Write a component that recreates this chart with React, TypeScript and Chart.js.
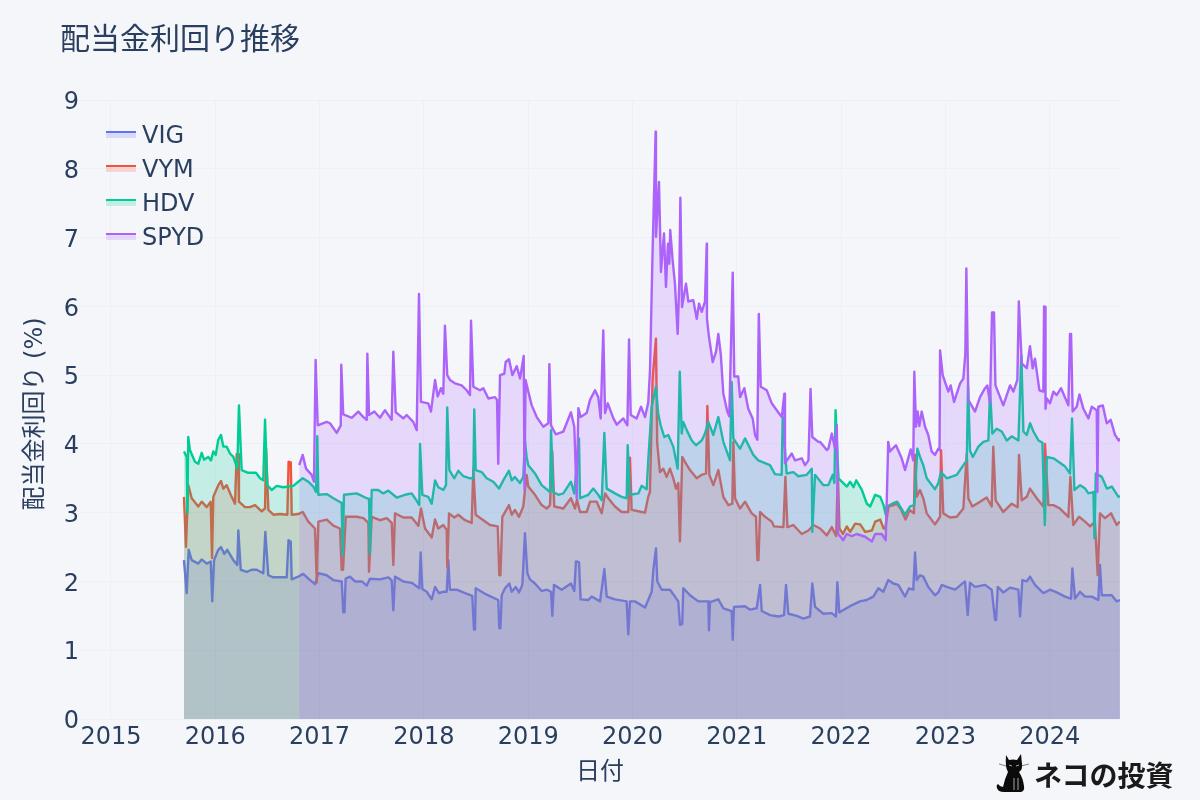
import React, { useEffect, useRef } from "react";
import { Chart, registerables } from "chart.js";

Chart.register(...registerables);

const chartTitle = "配当金利回り推移";
const xAxisTitle = "日付";
const yAxisTitle = "配当金利回り (%)";
const yearTicks = [2015, 2016, 2017, 2018, 2019, 2020, 2021, 2022, 2023, 2024];
const logoText = "ネコの投資";

const vigPoints = [[2015.700,2.31],[2015.726,1.83],[2015.745,2.46],[2015.774,2.31],[2015.837,2.26],[2015.870,2.32],[2015.918,2.26],[2015.956,2.29],[2015.971,1.71],[2015.988,2.31],[2016.029,2.46],[2016.055,2.50],[2016.086,2.40],[2016.115,2.46],[2016.173,2.31],[2016.211,2.24],[2016.221,2.74],[2016.244,2.17],[2016.301,2.14],[2016.349,2.17],[2016.397,2.17],[2016.460,2.12],[2016.480,2.72],[2016.508,2.09],[2016.556,2.06],[2016.685,2.06],[2016.702,2.60],[2016.723,2.58],[2016.733,2.03],[2016.796,2.07],[2016.844,2.11],[2016.892,2.04],[2016.956,1.96],[2016.988,2.12],[2017.068,2.09],[2017.131,2.02],[2017.212,2.00],[2017.227,1.55],[2017.239,1.55],[2017.250,2.04],[2017.292,2.07],[2017.339,2.00],[2017.404,2.00],[2017.452,1.94],[2017.483,2.04],[2017.579,2.03],[2017.659,2.06],[2017.691,2.02],[2017.707,1.58],[2017.723,2.07],[2017.803,2.00],[2017.883,1.98],[2017.956,1.90],[2017.969,2.42],[2017.985,1.89],[2018.027,1.85],[2018.075,1.74],[2018.107,1.92],[2018.145,1.83],[2018.186,1.85],[2018.219,1.85],[2018.234,2.31],[2018.250,1.88],[2018.315,1.88],[2018.394,1.83],[2018.464,1.79],[2018.480,1.30],[2018.490,1.30],[2018.497,1.90],[2018.586,1.82],[2018.713,1.73],[2018.723,1.32],[2018.734,1.32],[2018.746,1.80],[2018.778,1.90],[2018.819,1.97],[2018.842,1.85],[2018.880,1.92],[2018.912,1.84],[2018.944,1.95],[2018.969,2.70],[2018.992,2.12],[2019.017,2.03],[2019.065,1.97],[2019.129,1.86],[2019.177,1.88],[2019.219,1.85],[2019.231,1.50],[2019.247,1.95],[2019.321,1.88],[2019.410,1.97],[2019.442,1.86],[2019.458,2.29],[2019.487,2.28],[2019.503,1.74],[2019.576,1.73],[2019.609,1.78],[2019.689,1.71],[2019.730,2.18],[2019.753,1.78],[2019.832,1.74],[2019.944,1.71],[2019.960,1.23],[2019.976,1.71],[2020.024,1.71],[2020.120,1.62],[2020.151,1.73],[2020.184,1.85],[2020.200,2.17],[2020.225,2.48],[2020.238,2.00],[2020.280,1.88],[2020.359,1.88],[2020.407,1.78],[2020.439,1.71],[2020.455,1.37],[2020.477,1.38],[2020.487,1.90],[2020.551,1.80],[2020.631,1.71],[2020.727,1.71],[2020.733,1.29],[2020.743,1.70],[2020.823,1.74],[2020.871,1.61],[2020.951,1.57],[2020.961,1.15],[2020.973,1.63],[2021.079,1.64],[2021.127,1.59],[2021.191,1.61],[2021.223,1.95],[2021.239,1.57],[2021.319,1.51],[2021.399,1.49],[2021.453,1.51],[2021.472,1.95],[2021.494,1.53],[2021.575,1.50],[2021.638,1.46],[2021.702,1.49],[2021.724,1.97],[2021.750,1.63],[2021.830,1.53],[2021.910,1.54],[2021.951,1.49],[2021.964,1.99],[2021.983,1.55],[2022.085,1.64],[2022.181,1.71],[2022.246,1.73],[2022.309,1.78],[2022.357,1.90],[2022.405,1.85],[2022.452,2.02],[2022.500,1.97],[2022.548,1.95],[2022.613,1.78],[2022.651,1.90],[2022.692,1.88],[2022.709,2.42],[2022.725,2.02],[2022.757,2.09],[2022.788,2.07],[2022.836,1.92],[2022.900,1.80],[2022.932,1.84],[2022.965,1.95],[2023.013,1.92],[2023.093,1.88],[2023.188,2.00],[2023.214,1.51],[2023.236,1.98],[2023.284,1.92],[2023.380,1.95],[2023.444,1.88],[2023.476,1.44],[2023.486,1.44],[2023.502,1.92],[2023.555,1.84],[2023.620,1.91],[2023.699,1.88],[2023.716,1.49],[2023.738,2.02],[2023.780,2.00],[2023.811,2.07],[2023.859,1.95],[2023.939,1.83],[2024.003,1.88],[2024.067,1.84],[2024.147,1.78],[2024.205,1.75],[2024.217,2.19],[2024.243,1.75],[2024.291,1.85],[2024.339,1.78],[2024.403,1.78],[2024.466,1.73],[2024.482,2.24],[2024.499,1.80],[2024.595,1.80],[2024.643,1.71],[2024.674,1.73]];

const vymPoints = [[2015.700,3.23],[2015.719,2.50],[2015.741,3.40],[2015.774,3.21],[2015.837,3.09],[2015.870,3.16],[2015.918,3.08],[2015.956,3.16],[2015.969,2.34],[2015.981,3.23],[2016.029,3.40],[2016.055,3.46],[2016.077,3.35],[2016.109,3.40],[2016.157,3.23],[2016.189,3.13],[2016.205,3.85],[2016.218,3.85],[2016.227,3.16],[2016.285,3.08],[2016.333,3.08],[2016.381,3.11],[2016.445,3.02],[2016.477,3.06],[2016.487,3.93],[2016.509,3.04],[2016.557,2.97],[2016.621,2.98],[2016.691,2.97],[2016.703,3.74],[2016.724,3.73],[2016.733,2.97],[2016.796,2.98],[2016.838,3.01],[2016.892,2.87],[2016.956,2.77],[2016.973,1.98],[2016.988,2.87],[2017.069,2.90],[2017.132,2.81],[2017.196,2.77],[2017.212,2.17],[2017.225,2.17],[2017.251,2.94],[2017.356,2.94],[2017.420,2.92],[2017.468,2.85],[2017.474,2.14],[2017.500,2.94],[2017.579,2.89],[2017.644,2.92],[2017.692,2.85],[2017.707,2.24],[2017.723,2.99],[2017.803,2.93],[2017.883,2.93],[2017.947,2.81],[2017.972,3.06],[2018.011,2.77],[2018.075,2.64],[2018.107,2.90],[2018.138,2.77],[2018.186,2.82],[2018.219,2.75],[2018.224,2.21],[2018.241,2.99],[2018.292,2.93],[2018.330,2.97],[2018.394,2.89],[2018.458,2.85],[2018.474,3.64],[2018.497,2.97],[2018.570,2.89],[2018.634,2.82],[2018.708,2.80],[2018.723,2.09],[2018.734,2.09],[2018.752,2.94],[2018.816,3.11],[2018.842,2.97],[2018.873,3.04],[2018.912,2.94],[2018.953,3.09],[2018.985,3.55],[2019.001,3.38],[2019.065,3.26],[2019.129,3.11],[2019.177,3.06],[2019.209,3.11],[2019.231,3.89],[2019.250,3.09],[2019.337,3.06],[2019.410,3.21],[2019.449,3.06],[2019.468,3.19],[2019.497,3.01],[2019.561,3.01],[2019.593,3.16],[2019.657,3.16],[2019.705,2.99],[2019.737,3.28],[2019.768,3.21],[2019.832,3.09],[2019.896,3.01],[2019.960,3.01],[2019.976,3.80],[2019.992,3.04],[2020.088,3.01],[2020.120,3.00],[2020.151,3.23],[2020.167,3.30],[2020.193,4.95],[2020.225,5.53],[2020.237,4.01],[2020.263,3.59],[2020.295,3.64],[2020.327,3.52],[2020.359,3.64],[2020.391,3.50],[2020.417,3.35],[2020.439,3.43],[2020.455,2.58],[2020.477,3.81],[2020.503,3.74],[2020.551,3.62],[2020.616,3.50],[2020.664,3.55],[2020.705,3.57],[2020.718,4.55],[2020.737,3.55],[2020.775,3.40],[2020.823,3.62],[2020.871,3.23],[2020.919,3.11],[2020.957,3.13],[2020.967,4.03],[2020.983,3.21],[2021.031,3.06],[2021.079,3.16],[2021.143,2.99],[2021.184,2.94],[2021.197,2.31],[2021.208,2.31],[2021.223,3.01],[2021.271,2.94],[2021.335,2.87],[2021.357,2.80],[2021.447,2.79],[2021.466,3.52],[2021.485,2.79],[2021.542,2.82],[2021.623,2.69],[2021.687,2.74],[2021.735,2.82],[2021.799,2.77],[2021.863,2.67],[2021.911,2.79],[2021.953,2.66],[2021.969,3.59],[2021.984,2.77],[2022.017,2.69],[2022.055,2.80],[2022.087,2.72],[2022.135,2.84],[2022.183,2.83],[2022.231,2.72],[2022.295,2.74],[2022.327,2.87],[2022.375,2.90],[2022.407,2.77],[2022.423,2.77],[2022.455,3.09],[2022.503,3.11],[2022.535,3.13],[2022.577,3.04],[2022.618,2.90],[2022.657,3.04],[2022.698,2.99],[2022.709,3.84],[2022.725,3.23],[2022.756,3.33],[2022.788,3.21],[2022.821,2.99],[2022.900,2.83],[2022.949,2.94],[2022.958,3.91],[2022.980,2.99],[2023.044,2.93],[2023.109,2.94],[2023.172,3.06],[2023.205,3.86],[2023.220,3.21],[2023.258,3.09],[2023.332,3.16],[2023.396,3.22],[2023.444,3.09],[2023.459,3.96],[2023.482,3.18],[2023.555,3.01],[2023.636,3.13],[2023.693,3.08],[2023.706,3.84],[2023.732,3.18],[2023.780,3.23],[2023.811,3.35],[2023.876,3.21],[2023.939,3.09],[2023.955,4.00],[2023.987,3.11],[2024.035,3.11],[2024.099,3.06],[2024.179,2.94],[2024.198,3.52],[2024.226,2.82],[2024.281,2.94],[2024.339,2.87],[2024.387,2.80],[2024.434,2.87],[2024.460,2.09],[2024.482,2.99],[2024.530,2.92],[2024.588,2.99],[2024.643,2.82],[2024.671,2.87]];

const hdvPoints = [[2015.700,3.89],[2015.726,3.81],[2015.732,3.00],[2015.741,4.10],[2015.757,3.91],[2015.805,3.74],[2015.837,3.71],[2015.870,3.87],[2015.892,3.77],[2015.933,3.81],[2015.959,3.76],[2015.981,3.89],[2016.004,3.84],[2016.029,4.06],[2016.055,4.13],[2016.077,3.96],[2016.109,3.96],[2016.141,3.86],[2016.173,3.81],[2016.211,3.64],[2016.227,4.56],[2016.253,3.62],[2016.316,3.58],[2016.390,3.58],[2016.429,3.50],[2016.460,3.47],[2016.477,4.35],[2016.499,3.40],[2016.541,3.33],[2016.589,3.39],[2016.652,3.37],[2016.700,3.38],[2016.748,3.39],[2016.796,3.45],[2016.838,3.50],[2016.892,3.45],[2016.940,3.38],[2016.966,3.30],[2016.978,4.11],[2016.988,3.26],[2017.069,3.27],[2017.132,3.21],[2017.212,3.14],[2017.221,2.38],[2017.234,3.26],[2017.356,3.28],[2017.452,3.21],[2017.474,3.20],[2017.483,2.41],[2017.500,3.33],[2017.563,3.33],[2017.611,3.28],[2017.659,3.32],[2017.739,3.22],[2017.819,3.26],[2017.883,3.28],[2017.915,3.21],[2017.956,3.11],[2017.963,4.00],[2017.985,3.26],[2018.042,3.23],[2018.075,3.13],[2018.107,3.47],[2018.138,3.37],[2018.186,3.33],[2018.212,3.40],[2018.224,4.53],[2018.244,3.62],[2018.292,3.50],[2018.330,3.61],[2018.378,3.53],[2018.442,3.50],[2018.474,3.50],[2018.483,4.50],[2018.497,3.62],[2018.554,3.59],[2018.602,3.50],[2018.666,3.45],[2018.720,3.35],[2018.761,3.47],[2018.816,3.61],[2018.842,3.47],[2018.873,3.52],[2018.921,3.43],[2018.953,3.52],[2018.969,4.05],[2018.985,3.81],[2019.001,3.69],[2019.065,3.57],[2019.129,3.40],[2019.209,3.30],[2019.219,4.20],[2019.241,3.30],[2019.289,3.26],[2019.337,3.28],[2019.410,3.45],[2019.442,3.28],[2019.487,4.08],[2019.497,3.21],[2019.576,3.26],[2019.624,3.35],[2019.672,3.26],[2019.705,3.18],[2019.730,4.16],[2019.753,3.35],[2019.832,3.28],[2019.896,3.23],[2019.944,3.21],[2019.954,3.98],[2019.976,3.26],[2020.056,3.28],[2020.088,3.39],[2020.136,3.34],[2020.151,3.76],[2020.184,4.54],[2020.225,4.83],[2020.247,4.44],[2020.270,4.27],[2020.305,4.10],[2020.343,4.13],[2020.391,3.96],[2020.433,3.64],[2020.453,5.05],[2020.472,4.15],[2020.487,4.32],[2020.520,4.20],[2020.568,4.05],[2020.609,3.98],[2020.664,4.05],[2020.695,4.15],[2020.727,4.32],[2020.775,4.13],[2020.823,4.39],[2020.871,4.03],[2020.935,3.76],[2020.951,4.90],[2020.967,4.08],[2021.031,3.93],[2021.079,4.08],[2021.158,3.84],[2021.206,3.76],[2021.318,3.69],[2021.366,3.56],[2021.430,3.55],[2021.440,4.39],[2021.478,3.57],[2021.542,3.59],[2021.590,3.53],[2021.671,3.55],[2021.719,3.64],[2021.724,2.72],[2021.750,3.55],[2021.830,3.40],[2021.878,3.40],[2021.920,3.55],[2021.936,3.43],[2021.947,4.49],[2021.975,3.50],[2022.055,3.38],[2022.087,3.45],[2022.119,3.37],[2022.145,3.47],[2022.199,3.33],[2022.247,3.13],[2022.279,3.09],[2022.327,3.26],[2022.375,3.23],[2022.407,3.11],[2022.428,2.97],[2022.439,3.09],[2022.490,3.13],[2022.538,3.16],[2022.565,3.09],[2022.613,2.97],[2022.661,3.09],[2022.702,3.11],[2022.731,3.93],[2022.757,3.81],[2022.788,3.69],[2022.821,3.50],[2022.900,3.34],[2022.932,3.43],[2022.958,3.59],[2023.013,3.50],[2023.109,3.55],[2023.172,3.69],[2023.205,3.76],[2023.217,4.85],[2023.236,3.90],[2023.263,3.81],[2023.316,3.96],[2023.364,4.03],[2023.412,4.05],[2023.428,4.78],[2023.450,4.15],[2023.492,4.22],[2023.540,4.18],[2023.588,4.05],[2023.636,4.11],[2023.700,4.05],[2023.728,5.29],[2023.748,4.18],[2023.780,4.13],[2023.812,4.30],[2023.844,4.18],[2023.892,4.05],[2023.930,4.02],[2023.953,2.82],[2023.972,3.81],[2024.036,3.79],[2024.084,3.74],[2024.148,3.67],[2024.195,3.57],[2024.214,4.37],[2024.237,3.33],[2024.292,3.40],[2024.340,3.35],[2024.371,3.28],[2024.419,3.30],[2024.429,2.63],[2024.442,3.57],[2024.500,3.52],[2024.548,3.35],[2024.596,3.38],[2024.659,3.23],[2024.674,3.24]];

const spydPoints = [[2016.805,3.69],[2016.838,3.84],[2016.870,3.64],[2016.924,3.55],[2016.946,3.45],[2016.962,5.22],[2016.982,4.27],[2017.068,4.32],[2017.100,4.30],[2017.164,4.16],[2017.203,4.27],[2017.208,5.15],[2017.227,4.43],[2017.308,4.38],[2017.371,4.47],[2017.420,4.39],[2017.452,4.35],[2017.458,5.31],[2017.474,4.42],[2017.525,4.47],[2017.579,4.38],[2017.627,4.49],[2017.691,4.35],[2017.707,5.34],[2017.730,4.46],[2017.803,4.37],[2017.835,4.42],[2017.898,4.32],[2017.931,4.20],[2017.953,6.18],[2017.972,4.61],[2018.042,4.59],[2018.068,4.47],[2018.107,4.93],[2018.132,4.69],[2018.164,4.81],[2018.186,4.73],[2018.202,5.72],[2018.224,5.00],[2018.250,4.93],[2018.298,4.88],[2018.362,4.85],[2018.410,4.78],[2018.442,4.71],[2018.452,5.79],[2018.474,4.83],[2018.538,4.78],[2018.570,4.81],[2018.618,4.66],[2018.682,4.68],[2018.701,4.64],[2018.713,3.71],[2018.730,5.00],[2018.771,5.02],[2018.784,5.19],[2018.816,5.23],[2018.848,5.00],[2018.890,5.13],[2018.922,4.95],[2018.938,5.10],[2018.957,5.28],[2018.965,3.33],[2018.975,4.93],[2019.001,4.76],[2019.034,4.56],[2019.082,4.39],[2019.145,4.25],[2019.193,4.30],[2019.203,5.16],[2019.219,4.27],[2019.264,4.14],[2019.337,4.18],[2019.410,4.46],[2019.442,4.25],[2019.465,3.21],[2019.481,4.52],[2019.503,4.39],[2019.561,4.45],[2019.593,4.64],[2019.641,4.78],[2019.672,4.68],[2019.695,4.37],[2019.720,5.65],[2019.737,4.45],[2019.763,4.59],[2019.817,4.37],[2019.849,4.28],[2019.912,4.37],[2019.951,4.27],[2019.967,5.52],[2019.983,4.42],[2020.040,4.37],[2020.082,4.54],[2020.120,4.39],[2020.151,4.60],[2020.168,5.07],[2020.193,6.82],[2020.222,8.54],[2020.225,7.01],[2020.254,7.81],[2020.273,6.50],[2020.302,7.06],[2020.321,6.28],[2020.340,6.91],[2020.353,6.62],[2020.362,7.11],[2020.385,6.67],[2020.407,6.33],[2020.433,5.60],[2020.449,6.38],[2020.459,7.58],[2020.475,5.99],[2020.513,6.33],[2020.535,6.07],[2020.583,6.09],[2020.616,5.82],[2020.638,6.04],[2020.664,5.92],[2020.695,6.07],[2020.712,6.91],[2020.714,5.82],[2020.733,5.56],[2020.769,5.19],[2020.801,5.34],[2020.823,5.60],[2020.846,5.31],[2020.871,4.73],[2020.909,4.47],[2020.928,4.40],[2020.961,6.49],[2020.976,4.98],[2021.014,4.98],[2021.031,4.68],[2021.072,4.81],[2021.110,4.51],[2021.152,4.37],[2021.175,4.13],[2021.197,4.06],[2021.211,5.89],[2021.230,4.83],[2021.287,4.78],[2021.335,4.59],[2021.383,4.49],[2021.431,4.39],[2021.456,4.73],[2021.462,3.72],[2021.527,3.86],[2021.558,3.76],[2021.623,3.79],[2021.654,3.69],[2021.687,3.76],[2021.707,4.80],[2021.724,4.10],[2021.782,4.03],[2021.798,4.03],[2021.863,3.91],[2021.878,3.93],[2021.911,4.15],[2021.942,3.93],[2021.959,4.27],[2021.973,2.69],[2022.021,2.60],[2022.053,2.69],[2022.102,2.66],[2022.150,2.69],[2022.230,2.65],[2022.295,2.58],[2022.327,2.69],[2022.390,2.69],[2022.428,2.60],[2022.452,4.03],[2022.468,3.89],[2022.526,3.98],[2022.581,3.79],[2022.613,3.62],[2022.667,3.92],[2022.692,3.76],[2022.702,5.05],[2022.718,4.25],[2022.734,4.47],[2022.750,4.26],[2022.773,4.47],[2022.805,4.25],[2022.836,4.13],[2022.868,3.89],[2022.900,3.84],[2022.932,3.93],[2022.944,3.91],[2022.949,5.36],[2022.974,5.00],[2023.028,4.76],[2023.051,4.85],[2023.083,4.61],[2023.141,4.88],[2023.172,4.95],[2023.191,5.31],[2023.201,6.55],[2023.220,4.64],[2023.284,4.47],[2023.332,4.68],[2023.380,4.81],[2023.402,4.85],[2023.428,4.59],[2023.447,5.91],[2023.466,5.91],[2023.480,4.85],[2023.555,4.56],[2023.620,4.85],[2023.652,4.76],[2023.690,4.93],[2023.704,6.07],[2023.732,5.17],[2023.780,5.10],[2023.811,5.42],[2023.837,5.10],[2023.859,5.24],[2023.901,4.78],[2023.939,4.76],[2023.946,6.00],[2023.955,5.99],[2023.960,4.51],[2023.972,4.66],[2024.003,4.59],[2024.035,4.76],[2024.067,4.71],[2024.109,4.81],[2024.179,4.56],[2024.195,5.60],[2024.205,5.60],[2024.220,4.47],[2024.259,4.54],[2024.285,4.72],[2024.323,4.51],[2024.371,4.37],[2024.403,4.54],[2024.451,4.49],[2024.457,3.30],[2024.466,4.54],[2024.509,4.56],[2024.547,4.30],[2024.585,4.35],[2024.626,4.13],[2024.662,4.05],[2024.674,4.08]];

const seriesNames = ["VIG", "VYM", "HDV", "SPYD"];
const seriesPoints = [vigPoints, vymPoints, hdvPoints, spydPoints];
const lineColors = ["#636EFA", "#EF553B", "#00CC96", "#AB63FA"];
const fillColors = ["rgba(99,110,250,0.2)", "rgba(239,85,59,0.2)", "rgba(0,204,150,0.2)", "rgba(171,99,250,0.2)"];

const pageBg = "#F5F6FA";
const inkColor = "#2a3f5f";
const gridColor = "#EEF0F6";
const tickFont = "'DejaVu Sans', Verdana, sans-serif";
const cjkFont = "'DejaVu Sans', 'Noto Sans CJK JP', sans-serif";

function legendSwatch(line: string, fill: string) {
  const c = document.createElement("canvas");
  c.width = 30;
  c.height = 12;
  const g = c.getContext("2d")!;
  g.fillStyle = fill;
  g.fillRect(0, 0, 30, 7);
  g.fillStyle = line;
  g.fillRect(0, 0, 30, 2);
  return c;
}

const placeBoxes = {
  id: "placeBoxes",
  afterLayout(chart: any) {
    const a = chart.chartArea;
    if (chart.titleBlock) chart.titleBlock.left = 60;
    if (chart.legend) {
      chart.legend.left = a.left + 22;
      chart.legend.top = a.top + 15;
      chart.legend.right = a.right;
      chart.legend.bottom = a.bottom;
    }
    const yScale = chart.scales.y;
    if (yScale && !yScale.$titleMoved) {
      yScale.$titleMoved = true;
      const drawTitle = yScale.drawTitle;
      yScale.drawTitle = function (this: any) {
        const ctx = this.ctx;
        ctx.save();
        ctx.translate(0, 4.5);
        drawTitle.call(this);
        ctx.restore();
      };
    }
  },
};

export default function App() {
  const ref = useRef<HTMLCanvasElement>(null);
  useEffect(() => {
    document.body.style.margin = "0";
    document.body.style.background = pageBg;
    const swatches = seriesNames.map((_, i) => legendSwatch(lineColors[i], fillColors[i]));
    const chart = new Chart(ref.current!, {
      type: "line",
      data: {
        datasets: seriesNames.map((name, i) => ({
          label: name,
          data: seriesPoints[i].map(([x, y]) => ({ x, y })),
          borderColor: lineColors[i],
          backgroundColor: fillColors[i],
          borderWidth: 2.4,
          borderJoinStyle: "round" as const,
          fill: "origin",
          pointRadius: 0,
          tension: 0,
          order: seriesNames.length - i,
        })),
      },
      options: {
        animation: false,
        responsive: false,
        layout: { padding: { left: 21, right: 80, top: 0, bottom: 0 } },
        plugins: {
          title: {
            display: true,
            text: chartTitle,
            align: "start",
            color: inkColor,
            font: { family: cjkFont, size: 30, weight: "normal", lineHeight: 1.2 },
            padding: { top: 23, bottom: 41 },
          },
          legend: {
            display: true,
            position: "chartArea" as any,
            align: "start",
            labels: {
              usePointStyle: true,
              pointStyleWidth: 18,
              padding: 10,
              color: inkColor,
              font: { family: tickFont, size: 24 },
              sort: (a: any, b: any) => a.datasetIndex - b.datasetIndex,
              generateLabels: (c: any) =>
                Chart.defaults.plugins.legend.labels.generateLabels(c).map((item: any) => ({
                  ...item,
                  pointStyle: swatches[item.datasetIndex],
                })),
            },
          },
          tooltip: { enabled: false },
        },
        scales: {
          x: {
            type: "linear",
            min: 2014.703,
            max: 2024.674,
            afterFit: (s: any) => {
              s.height = 81;
            },
            afterBuildTicks: (s: any) => {
              s.ticks = yearTicks.map((value) => ({ value }));
            },
            grid: { color: gridColor, drawTicks: false, lineWidth: 1 },
            border: { display: false },
            ticks: {
              autoSkip: false,
              maxRotation: 0,
              padding: 4,
              color: inkColor,
              font: { family: tickFont, size: 24 },
              callback: (v: any) => String(v),
            },
            title: {
              display: true,
              text: xAxisTitle,
              color: inkColor,
              font: { family: cjkFont, size: 24 },
              padding: { top: 0, bottom: 13 },
            },
          },
          y: {
            type: "linear",
            min: 0,
            max: 9,
            afterFit: (s: any) => {
              s.width = 59;
            },
            grid: { color: gridColor, drawTicks: false, lineWidth: 1 },
            border: { display: false },
            ticks: {
              stepSize: 1,
              padding: 1,
              labelOffset: 3,
              color: inkColor,
              font: { family: tickFont, size: 24 },
            },
            title: {
              display: true,
              text: yAxisTitle,
              color: inkColor,
              font: { family: cjkFont, size: 24 },
              padding: { top: 0, bottom: 0 },
            },
          },
        },
      } as any,
      plugins: [placeBoxes],
    } as any);
    return () => chart.destroy();
  }, []);

  return (
    <div style={{ position: "absolute", left: 0, top: 0, width: 1200, height: 800, background: pageBg, overflow: "hidden" }}>
      <canvas ref={ref} width={1200} height={800} style={{ display: "block", width: 1200, height: 800 }} />
      <svg width={36} height={42} viewBox="0 0 36 42" style={{ position: "absolute", left: 996, top: 752 }}>
        <path
          d="M10 3 L13 8 Q17 7 21 8 L25 2 L26 12 Q27 17 23 20 Q27 26 28 34 Q29 39 25 40 L8 40 Q2 40 1 36 Q0 33 2 32 Q4 35 7 35 Q9 26 12 20 Q9 16 10 3 Z"
          fill="#0b0b0b"
        />
        <path d="M13 13 L16 14 M20 14 L23 13 M18 26 L18 38 M22 26 L22 38" stroke="#e8e8e8" strokeWidth={0.7} fill="none" />
        <path d="M3 12 L10 14 M25 14 L33 12" stroke="#333" strokeWidth={0.6} fill="none" />
      </svg>
      <div
        style={{
          position: "absolute",
          left: 1034,
          top: 756,
          fontFamily: "'Noto Sans CJK JP', sans-serif",
          fontWeight: 700,
          fontSize: 28,
          lineHeight: "36px",
          color: "#1a1a1a",
          whiteSpace: "nowrap",
        }}
      >
        {logoText}
      </div>
    </div>
  );
}
